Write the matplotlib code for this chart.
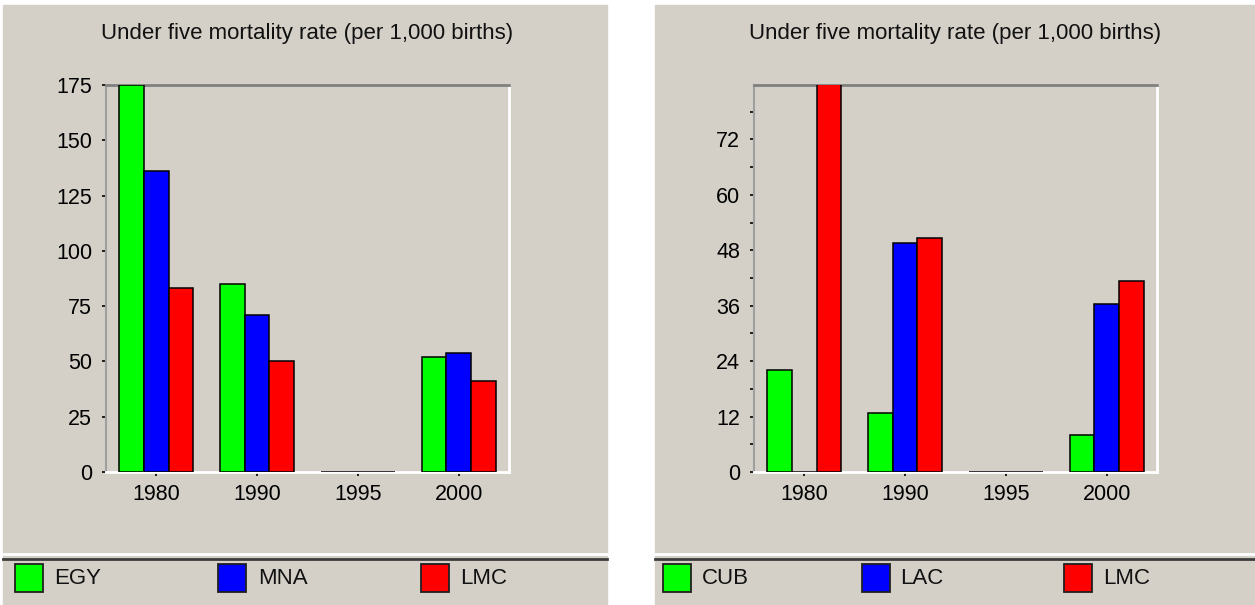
import matplotlib
matplotlib.use("Agg")
from matplotlib import pyplot as plt
from matplotlib.patches import Rectangle
from matplotlib.ticker import MultipleLocator
import numpy as np

plt.rcParams['font.family'] = ['Liberation Sans', 'DejaVu Sans']

# Data
years = ['1980', '1990', '1995', '2000']
title = 'Under five mortality rate (per 1,000 births)'

left_labels = ['EGY', 'MNA', 'LMC']
egy = [175, 85, 0, 52]
mna = [136, 71, 0, 54]
lmc_left = [83, 50, 0, 41]

right_labels = ['CUB', 'LAC', 'LMC']
cub = [22, 12.7, 0, 8.1]
lac = [0, 49.5, 0, 36.3]
lmc_right = [84, 50.7, 0, 41.4]

colors = ['#00ff00', '#0000ff', '#ff0000']
bg = '#d4d0c8'

W, H = 1255, 605
fig = plt.figure(figsize=(W / 100, H / 100), dpi=100, facecolor='white')


def fx(x):
    return x / W


def fy(y):
    return 1 - y / H


def panel(x0, x1, ax_left, series, labels, ymax, major, minor,
          box_x, text_x):
    # panel background
    fig.add_artist(Rectangle((fx(x0), 0), fx(x1 - x0), fy(5),
                             transform=fig.transFigure, color=bg, zorder=0))
    # legend separator (white + dark line)
    fig.add_artist(plt.Line2D([fx(x0), fx(x1)], [fy(554), fy(554)],
                              transform=fig.transFigure, color='white', lw=2))
    fig.add_artist(plt.Line2D([fx(x0), fx(x1)], [fy(558.5), fy(558.5)],
                              transform=fig.transFigure, color='#3c3c3c', lw=2))

    ax = fig.add_axes([fx(ax_left), fy(472), fx(403), (472 - 85) / H])
    ax.set_facecolor(bg)
    x = np.arange(len(years))
    w = 0.245
    for i, vals in enumerate(series):
        ax.bar(x + (i - 1) * w, vals, width=w, color=colors[i],
               edgecolor='black', linewidth=1.1, zorder=3)
    ax.set_xlim(-0.5, 3.5)
    ax.set_ylim(0, ymax)
    ax.set_xticks(x)
    ax.set_xticklabels(years, fontsize=15.5)
    ax.yaxis.set_major_locator(MultipleLocator(major))
    if minor:
        ax.yaxis.set_minor_locator(MultipleLocator(minor))
        ax.tick_params(axis='y', which='minor', length=3, width=1.2,
                       direction='out', color='black')
    ax.tick_params(axis='y', length=3, width=1.2, pad=7, labelsize=15.5)
    ax.tick_params(axis='x', length=3, width=1.2, pad=6)
    ax.spines['top'].set_color('#808080')
    ax.spines['top'].set_linewidth(2)
    ax.spines['left'].set_color('#a0a0a0')
    ax.spines['left'].set_linewidth(1.5)
    ax.spines['right'].set_color('white')
    ax.spines['right'].set_linewidth(2)
    ax.spines['bottom'].set_color('white')
    ax.spines['bottom'].set_linewidth(2)

    fig.text(fx(ax_left + 201.5), fy(33), title, ha='center', va='center',
             fontsize=16, color='#111111')

    # legend
    for lab, c, bx, tx in zip(labels, colors, box_x, text_x):
        fig.add_artist(Rectangle((fx(bx), fy(592)), fx(28), 28 / H,
                                 transform=fig.transFigure, facecolor=c,
                                 edgecolor='#202020', lw=1.3))
        fig.text(fx(tx), fy(579), lab, ha='left', va='center',
                 fontsize=16, color='#111111')
    return ax


panel(3, 607, 106, [egy, mna, lmc_left], left_labels, 175, 25, None,
      [15, 218, 421], [54, 258, 460])
panel(655, 1255, 754, [cub, lac, lmc_right], right_labels, 83.8, 12, 6,
      [663, 862, 1064], [702, 900, 1103])

fig.savefig('out.png', dpi=100, facecolor='white')
